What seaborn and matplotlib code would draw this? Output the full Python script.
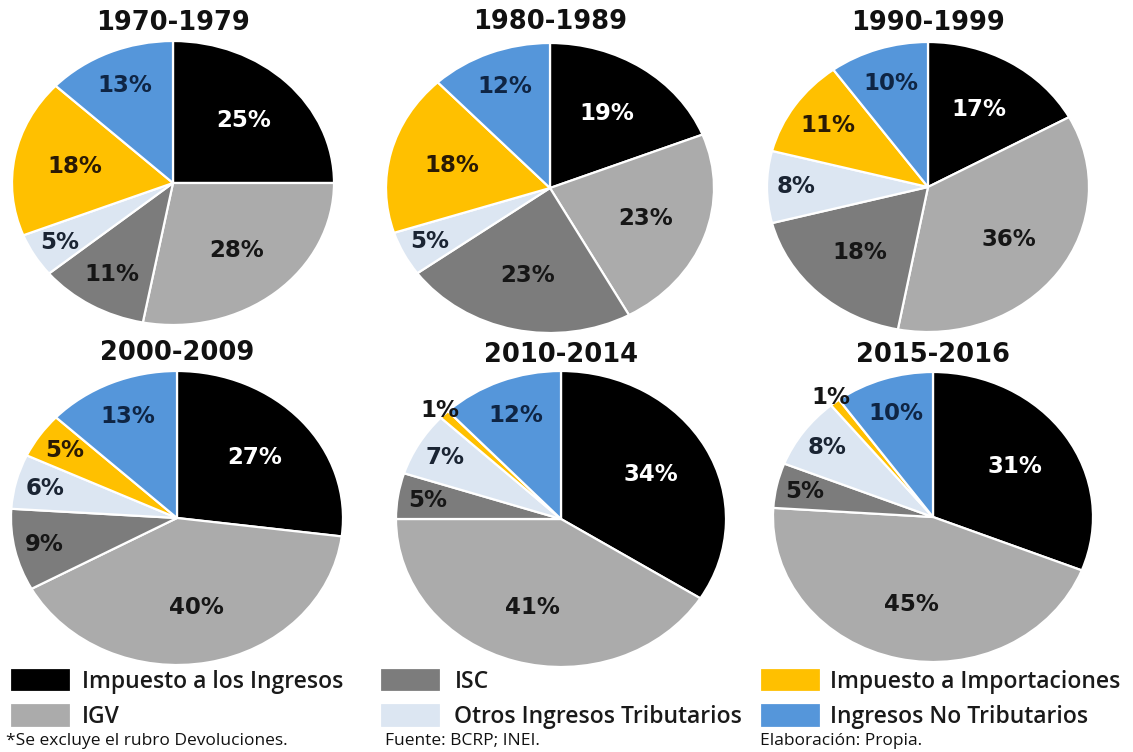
import matplotlib
matplotlib.use("Agg")
import matplotlib.pyplot as plt
import seaborn as sns
import numpy as np

# ---------------- data ----------------
periods = ["1970-1979", "1980-1989", "1990-1999", "2000-2009", "2010-2014", "2015-2016"]
categories = ["Impuesto a los Ingresos", "IGV", "ISC", "Otros Ingresos Tributarios",
              "Impuesto a Importaciones", "Ingresos No Tributarios"]
share_1970 = [25, 28, 11, 5, 18, 13]
share_1980 = [19, 23, 23, 5, 18, 12]
share_1990 = [17, 36, 18, 8, 11, 10]
share_2000 = [27, 40, 9, 6, 5, 13]
share_2010 = [34, 41, 5, 7, 1, 12]
share_2015 = [31, 45, 5, 8, 1, 10]
shares = [share_1970, share_1980, share_1990, share_2000, share_2010, share_2015]
footnotes = ["*Se excluye el rubro Devoluciones.", "Fuente: BCRP; INEI.", "Elaboración: Propia."]

# ---------------- style ----------------
sns.set_theme(style="white")
plt.rcParams["font.family"] = ["DejaVu Sans"]
palette = sns.color_palette(["#000000", "#ABABAB", "#7C7C7C", "#DCE6F2", "#FFC000", "#5596DA"])
text_colors = ["white", "#161616", "#161616", "#1a2433", "#2a1a05", "#0f2544"]

W, H = 1133, 752
fig = plt.figure(figsize=(W / 100, H / 100), dpi=100)
fig.patch.set_facecolor("white")

# pie geometry in pixels: centre x, centre y (from top), radius x, radius y
geom = [(173, 183, 161, 142), (550, 188, 164, 145), (928, 187, 161, 145),
        (177, 518, 166, 147), (561, 519, 165, 148), (933, 517, 160, 145)]
title_y = [23, 22, 23, 353, 355, 355]


def label_dist(v):
    if v >= 15:
        return 0.62
    if v >= 10:
        return 0.75
    if v >= 5:
        return 0.82
    return 1.04


handles = None
for i, (per, vals) in enumerate(zip(periods, shares)):
    cx, cy, rx, ry = geom[i]
    ax = fig.add_axes([(cx - rx) / W, 1 - (cy + ry) / H, 2 * rx / W, 2 * ry / H])
    wedges, _ = ax.pie(vals, colors=palette, startangle=90, counterclock=False,
                       wedgeprops=dict(edgecolor="white", linewidth=1.6))
    ax.set_aspect("auto")
    ax.set_xlim(-1, 1)
    ax.set_ylim(-1, 1)
    ax.axis("off")
    for j, (w, v) in enumerate(zip(wedges, vals)):
        mid = np.deg2rad((w.theta1 + w.theta2) / 2)
        d = label_dist(v)
        x, y = d * np.cos(mid), d * np.sin(mid)
        col = text_colors[j] if v >= 2 else "#161616"
        ax.text(x, y, f"{v}%", ha="center", va="center", fontsize=16.5,
                fontweight="bold", color=col)
    fig.text(cx / W, 1 - title_y[i] / H, per, ha="center", va="center",
             fontsize=18.5, fontweight="bold", color="#111111")
    if handles is None:
        handles = wedges

# ---------------- legend (three columns) ----------------
leg_font = dict(family=["Open Sans"], size=16.5, weight="semibold")
col_x = [10, 380, 760]
pads = [0.5, 0.6, 0.4]
for k in range(3):
    lg = fig.legend(handles[2 * k:2 * k + 2], categories[2 * k:2 * k + 2],
                    loc="upper left", bbox_to_anchor=(col_x[k] / W, 1 - 668 / H),
                    frameon=False, prop=leg_font, handlelength=2.65, handleheight=1.25,
                    handletextpad=pads[k], labelspacing=0.42, borderpad=0.0,
                    borderaxespad=0.0)
    for t in lg.get_texts():
        t.set_color("#1a1a1a")

# ---------------- footnotes ----------------
foot_x = [6, 385, 760]
for fx, ft in zip(foot_x, footnotes):
    fig.text(fx / W, 1 - 741 / H, ft, ha="left", va="center", fontsize=12.5,
             family=["Open Sans"], color="#111111")

fig.savefig("out.png", dpi=100, facecolor="white")
